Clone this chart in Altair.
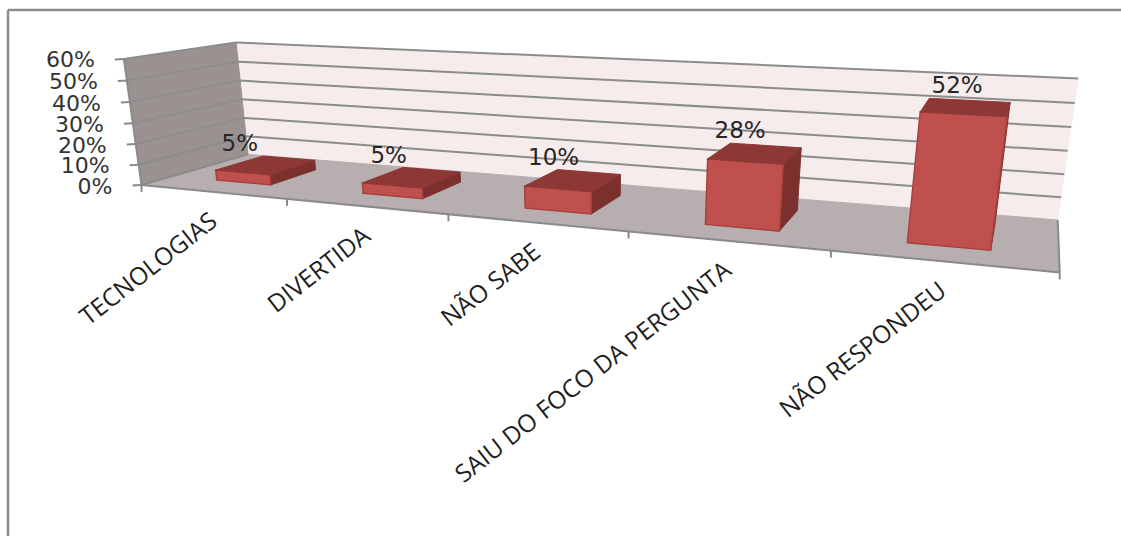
import numpy as np
import pandas as pd
import altair as alt

# Survey answers and their shares
categories = ["TECNOLOGIAS", "DIVERTIDA", "NÃO SABE", "SAIU DO FOCO DA PERGUNTA", "NÃO  RESPONDEU"]
shares = [5, 5, 10, 28, 52]
value_ticks = [0, 10, 20, 30, 40, 50, 60]

# Camera calibration: model point (slot, depth, percent) -> page pixel
calibration = [
    ((0, 0, 0), (142, 184)), ((1, 0, 0), (288, 198)), ((2, 0, 0), (448, 214)),
    ((3, 0, 0), (629, 232)), ((4, 0, 0), (830, 252)), ((5, 0, 0), (1060, 273)),
    ((0, 1, 0), (247, 156)), ((5, 1, 0), (1058, 218)),
    ((0, 0, 60), (123, 59)), ((0, 1, 60), (237, 42)), ((5, 1, 60), (1078, 79)),
]

rows = []
for (s, d, h), (px, py) in calibration:
    m = [s, d, h / 60, 1]
    rows.append([*m, 0, 0, 0, 0, *[-px * v for v in m]])
    rows.append([0, 0, 0, 0, *m, *[-py * v for v in m]])
camera = np.linalg.svd(np.array(rows, float))[2][-1].reshape(3, 4)


def project(s, d, h):
    u, v, w = camera @ np.array([s, d, h / 60, 1.0])
    return u / w, v / w


def polygon_frame(corners):
    out = []
    for pid, pts in corners:
        for k, p in enumerate(list(pts) + [pts[0]]):
            x, y = project(*p)
            out.append({"poly": pid, "k": k, "x": x, "y": y})
    return pd.DataFrame(out)


X = alt.X("x:Q", scale=alt.Scale(domain=[0, 1121], nice=False), axis=None)
Y = alt.Y("y:Q", scale=alt.Scale(domain=[536, 0], nice=False), axis=None)


def faces(corners, color, line=None, width=1.0):
    return alt.Chart(polygon_frame(corners)).mark_line(
        fill=color, stroke=line or color, strokeWidth=width, interpolate="linear-closed", clip=False
    ).encode(x=X, y=Y, detail="poly:N", order="k:Q")


def segments(items, color, width):
    out = []
    for pid, (a, b) in enumerate(items):
        for k, (x, y) in enumerate((a, b)):
            out.append({"poly": pid, "k": k, "x": x, "y": y})
    return alt.Chart(pd.DataFrame(out)).mark_line(stroke=color, strokeWidth=width).encode(
        x=X, y=Y, detail="poly:N", order="k:Q"
    )


TOP = 60
back_wall = faces([("b", [(0, 1, 0), (5, 1, 0), (5, 1, TOP), (0, 1, TOP)])], "#f6ecec")
side_wall = faces([("s", [(0, 0, 0), (0, 1, 0), (0, 1, TOP), (0, 0, TOP)])], "#9a9290")
floor = faces([("f", [(0, 0, 0), (5, 0, 0), (5, 1, 0), (0, 1, 0)])], "#b7afaf")

# Grid rings run along the side wall and then the back wall
grid = [(project(0, 0, t), project(0, 1, t)) for t in value_ticks[1:]]
grid += [(project(0, 1, t), project(5, 1, t)) for t in value_ticks[1:]]
grid_lines = segments(grid, "#8c8c8c", 2)

# Outer edges and tick marks of the floor and value axis
edges = [(project(0, 0, 0), project(5, 0, 0)), (project(5, 0, 0), project(5, 1, 0)),
         (project(0, 0, 0), project(0, 0, TOP)), (project(0, 0, 0), project(0, 1, 0))]
for i in range(6):
    x0, y0 = project(i, 0, 0)
    edges.append(((x0, y0), (x0, y0 + 7)))
for t in value_ticks:
    x0, y0 = project(0, 0, t)
    edges.append(((x0 - 9, y0 + 0.5), (x0, y0)))
edge_lines = segments(edges, "#8a8a8a", 2)

# Bar solids sit in the middle of each slot and of the floor depth
SLOT_A, SLOT_B = 0.32, 0.70
DEPTH_A, DEPTH_B = 0.27, 0.73
fronts, tops, sides = [], [], []
for i, v in enumerate(shares):
    a, b = i + SLOT_A, i + SLOT_B
    fronts.append((f"c{i}", [(a, DEPTH_A, 0), (b, DEPTH_A, 0), (b, DEPTH_A, v), (a, DEPTH_A, v)]))
    tops.append((f"c{i}", [(a, DEPTH_A, v), (b, DEPTH_A, v), (b, DEPTH_B, v), (a, DEPTH_B, v)]))
    sides.append((f"c{i}", [(b, DEPTH_A, 0), (b, DEPTH_B, 0), (b, DEPTH_B, v), (b, DEPTH_A, v)]))
side_layer = faces(sides, "#7c302e")
front_layer = faces(fronts, "#c0504d", "#a8413e", 1.5)
top_layer = faces(tops, "#8e3836")

# Percent labels above each bar
bar_label_rows = []
for i, v in enumerate(shares):
    x = project(i + 0.47, DEPTH_A, v)[0]
    y = project(i + 0.5, DEPTH_B, v)[1]
    bar_label_rows.append({"x": x + 3, "y": y - 14, "t": f"{v}%"})
bar_labels = alt.Chart(pd.DataFrame(bar_label_rows)).mark_text(
    font="DejaVu Sans", fontSize=23, color="#262626", align="center", baseline="middle"
).encode(x=X, y=Y, text="t:N")

# Value axis labels
axis_rows = []
for t in value_ticks:
    x, y = project(0, 0, t)
    axis_rows.append({"x": x - 29, "y": y + 1.5, "t": f"{t}%"})
axis_labels = alt.Chart(pd.DataFrame(axis_rows)).mark_text(
    font="DejaVu Sans", fontSize=22, color="#333333", align="right", baseline="middle"
).encode(x=X, y=Y, text="t:N")

# Slanted category labels end just under their slots
cat_rows = []
for i, c in enumerate(categories):
    x, y = project(i + 0.5, 0, 0)
    cat_rows.append({"x": x + 2, "y": y + 27, "t": c})
cat_labels = alt.Chart(pd.DataFrame(cat_rows)).mark_text(
    font="Open Sans", fontSize=24.5, color="#1f1f1f", align="right", baseline="middle", angle=322
).encode(x=X, y=Y, text="t:N")

# Outer border of the chart area
border = segments([((8, 10), (1121, 10)), ((8, 10), (8, 536))], "#8c8c8c", 2.5)

chart = alt.layer(
    border, back_wall, side_wall, floor, grid_lines, edge_lines,
    side_layer, front_layer, top_layer, bar_labels, axis_labels, cat_labels,
).properties(
    width=1121, height=536, padding=0, autosize=alt.AutoSizeParams(type="none"), background="white"
).configure_view(stroke=None)

chart.save("out.html", embed_options={"renderer": "svg", "actions": False})
